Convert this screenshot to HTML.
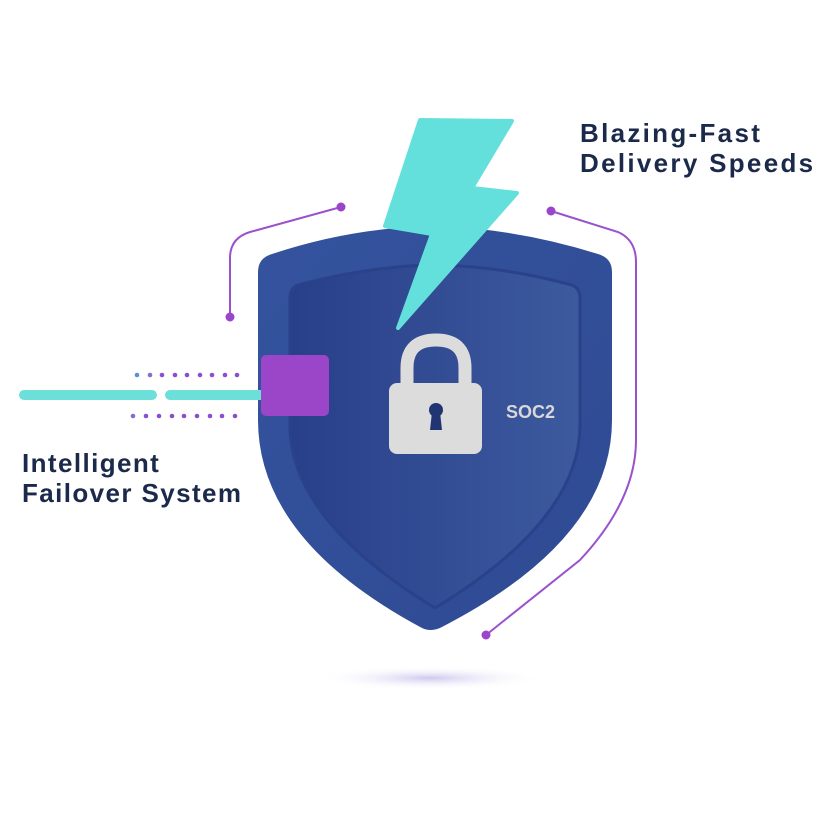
<!DOCTYPE html>
<html><head><style>
html,body{margin:0;padding:0;background:#fff;}
svg{display:block;}
text{font-family:"Liberation Sans",sans-serif;font-weight:bold;}
</style></head><body>
<svg width="836" height="836" viewBox="0 0 836 836" xmlns="http://www.w3.org/2000/svg">
<defs>
<radialGradient id="sh" cx="50%" cy="50%" r="50%"><stop offset="0" stop-color="#cfc8ee"/><stop offset="1" stop-color="#ffffff" stop-opacity="0"/></radialGradient>
<linearGradient id="sg" x1="0" y1="0" x2="1" y2="1"><stop offset="0" stop-color="#34539e"/><stop offset="1" stop-color="#2f4a93"/></linearGradient>
<linearGradient id="ig" x1="0" y1="0" x2="1" y2="0"><stop offset="0" stop-color="#283f8a"/><stop offset="1" stop-color="#3d5a9e"/></linearGradient>
</defs>
<ellipse cx="430" cy="678" rx="115" ry="12" fill="url(#sh)"/>
<g fill="none" stroke="#9a52cc" stroke-width="2">
<path d="M341 207 L250 232 Q230 238 230 258 L230 317"/>
<path d="M551 211 L618 232 Q636 240 636 262 L636 440 Q636 500 580 560 L486 635"/>
</g>
<g fill="#9a45cc"><circle cx="341" cy="207" r="4.5"/><circle cx="230" cy="317" r="4.5"/><circle cx="551" cy="211" r="4.5"/><circle cx="486" cy="635" r="4.5"/></g>
<path d="M258 272 Q258 258 272 254 Q350 228 432 226 Q515 228 598 254 Q612 258 612 272 L612 420 Q612 540 440 628 Q430 632 422 628 Q258 540 258 420 Z" fill="url(#sg)"/>
<path d="M290 298 Q290 286 302 284 Q370 266 435 265 Q500 266 568 284 Q580 286 580 298 L580 425 Q580 520 435 608 Q290 520 290 425 Z" fill="url(#ig)" stroke="#2a4289" stroke-width="3"/>
<polygon points="420,120 512,121 472,188 517,193 398,328 432,234 385,226" fill="#64e0dc" stroke="#64e0dc" stroke-width="4" stroke-linejoin="round"/>
<g stroke="#6ddfd9" stroke-width="10" stroke-linecap="round"><line x1="24" y1="395" x2="152" y2="395"/><line x1="170" y1="395" x2="262" y2="395"/></g>
<g fill="#8a4fd0">
<circle cx="137" cy="375" r="2.3" fill="#5b8fdc"/><circle cx="150" cy="375" r="2.3" fill="#7a70d8"/><circle cx="162" cy="375" r="2.3"/><circle cx="175" cy="375" r="2.3"/><circle cx="187" cy="375" r="2.3"/><circle cx="200" cy="375" r="2.3"/><circle cx="212" cy="375" r="2.3"/><circle cx="225" cy="375" r="2.3"/><circle cx="237" cy="375" r="2.3"/>
<circle cx="133" cy="416" r="2.3" fill="#7a70d8"/><circle cx="146" cy="416" r="2.3"/><circle cx="159" cy="416" r="2.3"/><circle cx="172" cy="416" r="2.3"/><circle cx="184" cy="416" r="2.3"/><circle cx="197" cy="416" r="2.3"/><circle cx="210" cy="416" r="2.3"/><circle cx="222" cy="416" r="2.3"/><circle cx="235" cy="416" r="2.3"/>
</g>
<rect x="261" y="355" width="68" height="61" rx="5" fill="#9b45c8"/>
<path d="M407 383 L407 368 Q407 340 436 340 Q465 340 465 368 L465 383" fill="none" stroke="#dcdcdc" stroke-width="13"/>
<rect x="389" y="383" width="93" height="71" rx="8" fill="#dcdcdc"/>
<circle cx="436" cy="410" r="7" fill="#223573"/>
<polygon points="432,412 440,412 442,430 430,430" fill="#223573"/>
<text x="506" y="418" font-size="18" fill="#d8d8d8">SOC2</text>
<g fill="#1b2a4a" font-size="26">
<text x="580" y="142" letter-spacing="2.3">Blazing-Fast</text>
<text x="580" y="172" letter-spacing="2.3">Delivery Speeds</text>
<text x="22" y="472" letter-spacing="1.4">Intelligent</text>
<text x="22" y="502" letter-spacing="1.4">Failover System</text>
</g>
</svg>
</body></html>
